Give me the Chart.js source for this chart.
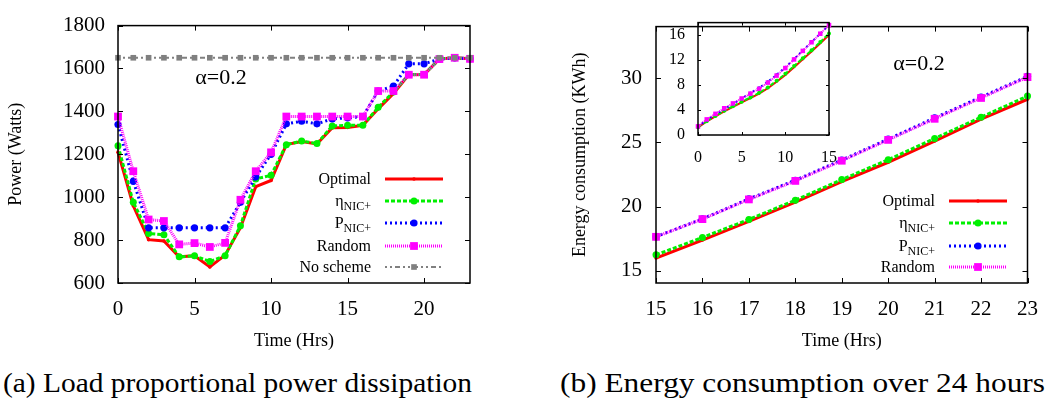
<!DOCTYPE html>
<html><head><meta charset="utf-8">
<script src="https://cdn.jsdelivr.net/npm/chart.js@4.4.1/dist/chart.umd.min.js"></script>
<style>
html,body{margin:0;padding:0;background:#fff;}
body{width:1052px;height:405px;overflow:hidden;position:relative;font-family:'Liberation Serif',serif;}
canvas{position:absolute;}
#c1{left:0;top:0;}
#c2{left:540px;top:0;}
#c3{left:600px;top:0;}
.cap{position:absolute;white-space:nowrap;font-family:'Liberation Serif',serif;font-size:27px;line-height:27px;transform-origin:0 0;color:#000;}
</style></head><body>
<canvas id="c1" width="480" height="360"></canvas>
<canvas id="c2" width="512" height="360"></canvas>
<canvas id="c3" width="250" height="180"></canvas>
<div class="cap" id="capA">(a) Load proportional power dissipation</div>
<div class="cap" id="capB">(b) Energy consumption over 24 hours</div>
<script>
// ---------- data ----------
const hours = [0,1,2,3,4,5,6,7,8,9,10,11,12,13,14,15,16,17,18,19,20,21,22,23];
const hoursLate = [15,16,17,18,19,20,21,22,23];
const hoursInset = [0,1,2,3,4,5,6,7,8,9,10,11,12,13,14,15];

const powerTicks = [600,800,1000,1200,1400,1600,1800];
const hourTicks = [0,5,10,15,20];
const energyTicks = [15,20,25,30];
const lateHourTicks = [15,16,17,18,19,20,21,22,23];
const insetYTicks = [0,4,8,12,16];
const insetXTicks = [0,5,10,15];

const seriesNames = ['Optimal','η|NIC+','P|NIC+','Random','No scheme'];

const powerOptimal = [1210,960,802,796,722,727,675,730,858,1049,1078,1245,1260,1248,1324,1325,1335,1412,1484,1571,1572,1644,1650,1645];
const powerEta     = [1240,976,831,825,722,727,700,727,867,1085,1102,1245,1262,1250,1332,1335,1335,1419,1491,1572,1572,1644,1650,1645];
const powerP       = [1339,1074,857,857,857,857,857,857,976,1095,1200,1342,1354,1342,1365,1370,1376,1495,1518,1622,1622,1644,1650,1645];
const powerRandom  = [1376,1121,896,889,780,786,768,787,988,1121,1209,1376,1376,1376,1376,1376,1376,1495,1495,1571,1571,1644,1650,1645];
const powerNoScheme= [1650,1650,1650,1650,1650,1650,1650,1650,1650,1650,1650,1650,1650,1650,1650,1650,1650,1650,1650,1650,1650,1650,1650,1650];

const energyOptimal = [16.0,17.4,18.85,20.35,21.95,23.45,25.1,26.8,28.35];
const energyEta     = [16.25,17.6,19.0,20.5,22.1,23.65,25.3,26.95,28.6];
const energyP       = [17.66,19.05,20.6,22.05,23.62,25.25,26.9,28.52,30.13];
const energyRandom  = [17.65,19.03,20.56,22.0,23.57,25.19,26.83,28.45,30.07];

const insetOptimal = [1.21,2.17,2.97,3.77,4.49,5.22,5.89,6.62,7.48,8.53,9.61,10.85,12.11,13.36,14.69,16.0];
const insetEta     = [1.24,2.22,3.05,3.87,4.6,5.32,6.02,6.75,7.62,8.7,9.8,11.05,12.31,13.56,14.89,16.25];
const insetP       = [1.34,2.41,3.27,4.13,4.99,5.84,6.7,7.56,8.53,9.63,10.83,12.17,13.52,14.87,16.23,17.6];
const insetRandom  = [1.38,2.5,3.39,4.28,5.06,5.85,6.62,7.4,8.39,9.51,10.72,12.1,13.47,14.85,16.22,17.6];

// ---------- styling ----------
const F = "'Liberation Serif', serif";
const styles = [
  {color:'#ff0000', dash:[],          width:3,   point:'circle', r:1.8, ri:1.0},
  {color:'#00f000', dash:[4,2],       width:3,   point:'circle', r:3.5, ri:2.0},
  {color:'#0000ff', dash:[2,3],       width:3,   point:'circle', r:3.6, ri:1.6},
  {color:'#ff00ff', dash:[1,1],       width:3,   point:'rect',   r:5.5, ri:3.2},
  {color:'#808080', dash:[2,3,2,3,5,3], width:2, point:'rect',   r:4.0, ri:3.0}
];

function mkData(xs, ys){ return xs.map((x,i)=>({x:x, y:ys[i]})); }
function mkDataset(i, xs, ys, inset){
  const s = styles[i];
  return {
    label: seriesNames[i], data: mkData(xs, ys),
    borderColor: s.color, backgroundColor: s.color,
    borderWidth: inset ? Math.max(1.5, s.width-1) : s.width,
    borderDash: s.dash, pointStyle: s.point,
    pointRadius: inset ? s.ri : s.r, pointHoverRadius: inset ? s.ri : s.r,
    pointBackgroundColor: s.color, pointBorderWidth: 0,
    tension: 0, fill: false, clip: false, order: 10 - i
  };
}

function drawMarker(ctx, style, r, x, y){
  ctx.fillStyle = style.color;
  ctx.beginPath();
  if (style.point === 'rect') { const h = r*Math.SQRT1_2; ctx.rect(x-h, y-h, 2*h, 2*h); }
  else ctx.arc(x, y, r, 0, Math.PI*2);
  ctx.fill();
}

const gnuPlugin = {
  id: 'gnu',
  afterDatasetsDraw(chart, args, opts){
    const {ctx, chartArea: a, scales} = chart;
    ctx.save();
    ctx.setLineDash([]);
    ctx.strokeStyle = '#000';
    ctx.lineWidth = opts.frame || 1.5;
    ctx.strokeRect(a.left, a.top, a.right - a.left, a.bottom - a.top);
    const tl = opts.tick || 5;
    ctx.lineWidth = 1;
    ctx.beginPath();
    scales.x.ticks.forEach(t => {
      const px = Math.round(scales.x.getPixelForValue(t.value)) + 0.5;
      ctx.moveTo(px, a.bottom); ctx.lineTo(px, a.bottom - tl);
      ctx.moveTo(px, a.top); ctx.lineTo(px, a.top + tl);
    });
    scales.y.ticks.forEach(t => {
      const py = Math.round(scales.y.getPixelForValue(t.value)) + 0.5;
      ctx.moveTo(a.left, py); ctx.lineTo(a.left + tl, py);
      ctx.moveTo(a.right, py); ctx.lineTo(a.right - tl, py);
    });
    ctx.stroke();
    if (opts.note) {
      ctx.fillStyle = '#000';
      ctx.font = '22px ' + F;
      ctx.textAlign = 'center'; ctx.textBaseline = 'middle';
      ctx.fillText(opts.note.text, opts.note.x, opts.note.y);
    }
    if (opts.legend) {
      const L = opts.legend;
      chart.data.datasets.forEach((ds, i) => {
        const st = styles[i];
        const y = L.rows[i];
        const parts = ds.label.split('|');
        ctx.fillStyle = '#000';
        ctx.textBaseline = 'middle'; ctx.textAlign = 'left';
        ctx.font = '16px ' + F;
        const w1 = ctx.measureText(parts[0]).width;
        let w2 = 0;
        if (parts[1]) { ctx.font = '12px ' + F; w2 = ctx.measureText(parts[1]).width; }
        const x0 = L.textRight - w1 - w2;
        ctx.font = '16px ' + F;
        ctx.fillText(parts[0], x0, y + 1);
        if (parts[1]) { ctx.font = '12px ' + F; ctx.fillText(parts[1], x0 + w1, y + 6); }
        ctx.strokeStyle = st.color; ctx.lineWidth = st.width;
        ctx.setLineDash(st.dash);
        ctx.beginPath(); ctx.moveTo(L.x1, y); ctx.lineTo(L.x2, y); ctx.stroke();
        ctx.setLineDash([]);
        drawMarker(ctx, st, st.r, (L.x1 + L.x2)/2, y);
      });
    }
    ctx.restore();
  }
};

function axis(cfg){
  const o = {
    type: 'linear', min: cfg.min, max: cfg.max,
    afterBuildTicks: s => { s.ticks = cfg.ticks.map(v => ({value: v})); },
    grid: {display: false, drawTicks: false},
    border: {display: false},
    ticks: {font: {family: F, size: cfg.fs}, color: '#000', padding: cfg.pad, maxRotation: 0, autoSkip: false,
            callback: v => String(v)},
    title: cfg.title ? {display: true, text: cfg.title, font: {family: F, size: 18}, color: '#000', padding: cfg.tpad} : {display: false}
  };
  if (cfg.width !== undefined) o.afterFit = s => { s.width = cfg.width; };
  if (cfg.height !== undefined) o.afterFit = s => { s.height = cfg.height; };
  return o;
}

function baseOptions(pad, xAx, yAx, gnu){
  return {
    responsive: false, animation: false, devicePixelRatio: 1,
    layout: {padding: pad},
    plugins: {legend: {display: false}, tooltip: {enabled: false}, gnu: gnu},
    events: [],
    scales: {x: xAx, y: yAx}
  };
}

// ---------- left chart ----------
new Chart(document.getElementById('c1'), {
  type: 'line',
  data: {datasets: [
    mkDataset(0, hours, powerOptimal), mkDataset(1, hours, powerEta),
    mkDataset(2, hours, powerP), mkDataset(3, hours, powerRandom), mkDataset(4, hours, powerNoScheme)
  ]},
  options: baseOptions({top: 7.5, right: 10, bottom: 0, left: 0},
    axis({min: 0, max: 23, ticks: hourTicks, fs: 21, pad: 14, height: 77, title: 'Time (Hrs)', tpad: {top: 0, bottom: 8}}),
    axis({min: 600, max: 1800, ticks: powerTicks, fs: 21, pad: 13, width: 118, title: 'Power (Watts)', tpad: {top: 5, bottom: 0}}),
    {tick: 5, note: {text: 'α=0.2', x: 221, y: 78},
     legend: {textRight: 371, x1: 385, x2: 443, rows: [179, 201, 223, 246, 267]}}),
  plugins: [gnuPlugin]
});

// ---------- right chart ----------
new Chart(document.getElementById('c2'), {
  type: 'line',
  data: {datasets: [
    mkDataset(0, hoursLate, energyOptimal), mkDataset(1, hoursLate, energyEta),
    mkDataset(2, hoursLate, energyP), mkDataset(3, hoursLate, energyRandom)
  ]},
  options: baseOptions({top: 7, right: 18, bottom: 0, left: 0},
    axis({min: 15, max: 23, ticks: lateHourTicks, fs: 21, pad: 14, height: 77, title: 'Time (Hrs)', tpad: {top: 0, bottom: 8}}),
    axis({min: 14.06, max: 34.0, ticks: energyTicks, fs: 21, pad: 14, width: 116, title: 'Energy consumption (KWh)', tpad: {top: 29, bottom: 0}}),
    {tick: 5, note: {text: 'α=0.2', x: 379, y: 64},
     legend: {textRight: 395, x1: 409, x2: 467, rows: [201, 223, 246, 267]}}),
  plugins: [gnuPlugin]
});

// ---------- inset ----------
new Chart(document.getElementById('c3'), {
  type: 'line',
  data: {datasets: [
    mkDataset(0, hoursInset, insetOptimal, true), mkDataset(1, hoursInset, insetEta, true),
    mkDataset(2, hoursInset, insetP, true), mkDataset(3, hoursInset, insetRandom, true)
  ]},
  options: baseOptions({top: 19, right: 19, bottom: 0, left: 0},
    axis({min: 0, max: 15, ticks: insetXTicks, fs: 16, pad: 13, height: 45}),
    axis({min: 0, max: 18, ticks: insetYTicks, fs: 16, pad: 13, width: 98}),
    {tick: 3}),
  plugins: [gnuPlugin]
});

// ---------- captions ----------
function fitCaption(id, left, right, top){
  const el = document.getElementById(id);
  const w = el.getBoundingClientRect().width;
  el.style.left = left + 'px';
  el.style.top = top + 'px';
  el.style.transform = 'scaleX(' + ((right - left) / w) + ')';
}
fitCaption('capA', 3, 472, 370);
fitCaption('capB', 560, 1045, 370);
</script>
</body></html>
